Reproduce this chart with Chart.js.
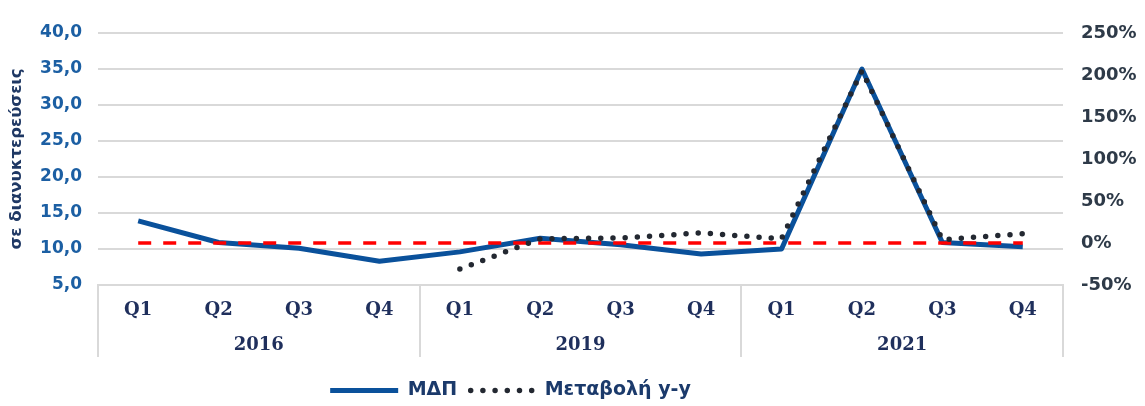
<!DOCTYPE html>
<html><head><meta charset="utf-8">
<script src="https://cdn.jsdelivr.net/npm/chart.js@4/dist/chart.umd.min.js"></script>
<style>html,body{margin:0;padding:0;background:#fff}#wrap{width:1145px;height:406px;position:relative}</style>
</head><body><div id="wrap"><canvas id="c"></canvas></div>
<script>
const quarters = ['Q1','Q2','Q3','Q4','Q1','Q2','Q3','Q4','Q1','Q2','Q3','Q4'];
const years = ['2016','2019','2021'];
const mdp = [13.9, 10.9, 10.1, 8.3, 9.6, 11.5, 10.6, 9.3, 10.0, 35.0, 10.9, 10.3];
const yoyChange = [null, null, null, null, -31, 5, 6, 12, 5, 205, 4, 11];
const zeroLine = [0, 0, 0, 0, 0, 0, 0, 0, 0, 0, 0, 0];
const seriesNames = ['ΜΔΠ', 'Μεταβολή y-y'];
const axisTitle = 'σε διανυκτερεύσεις';

const GRID = '#D9D9D9';

const groupSeparators = {
  id: 'groupSeparators',
  afterLayout(chart) {
    const lg = chart.legend;
    if (lg) { lg.left -= 62; lg.right -= 62; lg.top += 8; lg.bottom += 8; }
  },
  afterDraw(chart) {
    const xs = chart.scales.x2;
    const ctx = chart.ctx;
    const n = years.length;
    const w = (xs.right - xs.left) / n;
    ctx.save();
    ctx.strokeStyle = GRID;
    ctx.lineWidth = 2;
    for (let i = 0; i <= n; i++) {
      const px = Math.round(xs.left + i * w);
      ctx.beginPath();
      ctx.moveTo(px, chart.chartArea.bottom);
      ctx.lineTo(px, 357);
      ctx.stroke();
    }
    ctx.restore();
  }
};

new Chart(document.getElementById('c'), {
  type: 'line',
  data: {
    labels: quarters,
    datasets: [
      { label: seriesNames[0], data: mdp, yAxisID: 'y', borderColor: '#0A519B', backgroundColor: '#0A519B',
        borderWidth: 5, pointRadius: 0, pointHoverRadius: 0, tension: 0, order: 3, borderJoinStyle: 'round' },
      { label: seriesNames[1], data: yoyChange, yAxisID: 'y2', borderColor: '#232831', backgroundColor: '#232831',
        borderWidth: 5.5, borderDash: [0, 12.2], borderCapStyle: 'round', pointRadius: 0, pointHoverRadius: 0,
        tension: 0, order: 1, spanGaps: false },
      { label: 'ref', data: zeroLine, yAxisID: 'y2', borderColor: '#FF0000', backgroundColor: '#FF0000',
        borderWidth: 3.5, borderDash: [13, 12], pointRadius: 0, pointHoverRadius: 0, order: 2 }
    ]
  },
  options: {
    responsive: true, maintainAspectRatio: false, animation: false, devicePixelRatio: 1,
    layout: { padding: { top: 33, bottom: 4, left: 0, right: 0 } },
    plugins: {
      tooltip: { enabled: false },
      legend: {
        position: 'bottom',
        labels: {
          usePointStyle: true, pointStyle: 'line', pointStyleWidth: 68, boxHeight: 12,
          font: { family: 'DejaVu Sans', weight: 'bold', size: 19 }, color: '#1B3A6B', padding: 10,
          generateLabels: (chart) => {
            const items = Chart.defaults.plugins.legend.labels.generateLabels(chart);
            return items.filter(it => it.datasetIndex !== 2)
              .sort((a, b) => a.datasetIndex - b.datasetIndex)
              .map(it => {
                const ds = chart.data.datasets[it.datasetIndex];
                it.lineDash = ds.borderDash || [];
                it.lineDashOffset = ds.borderDash ? -3.5 : 0;
                it.lineCap = ds.borderCapStyle || 'butt';
                it.lineWidth = ds.borderWidth;
                it.strokeStyle = ds.borderColor;
                it.pointStyle = 'line';
                return it;
              });
          }
        }
      }
    },
    scales: {
      x: {
        type: 'category', position: 'bottom', offset: true,
        grid: { display: false, drawTicks: false },
        border: { display: true, color: GRID, width: 2 },
        ticks: { font: { family: 'DejaVu Serif', weight: 'bold', size: 18 }, color: '#1F2F5C', padding: 15, maxRotation: 0, autoSkip: false },
        afterFit: (s) => { s.height = 36; }
      },
      x2: {
        type: 'category', position: 'bottom', offset: true, labels: years,
        grid: { display: false, drawTicks: false },
        border: { display: false },
        ticks: { font: { family: 'DejaVu Serif', weight: 'bold', size: 18 }, color: '#1F2F5C', padding: 14, maxRotation: 0, autoSkip: false },
        afterFit: (s) => { s.height = 42; }
      },
      y: {
        position: 'left', min: 5, max: 40,
        grid: { color: GRID, lineWidth: 2, drawTicks: false },
        border: { display: false },
        ticks: { stepSize: 5, padding: 16, color: '#1C5FA3', font: { family: 'DejaVu Sans', weight: 'bold', size: 17 },
          callback: (v) => v.toFixed(1).replace('.', ',') },
        title: { display: true, text: axisTitle, color: '#1F3864', font: { family: 'DejaVu Sans', weight: 'bold', size: 16.5 }, padding: { top: 7, bottom: 0 } },
        afterFit: (s) => { s.width = 98; }
      },
      y2: {
        position: 'right', min: -50, max: 250,
        grid: { display: false, drawTicks: false },
        border: { display: false },
        ticks: { stepSize: 50, padding: 18, color: '#2E3A48', font: { family: 'DejaVu Sans', weight: 'bold', size: 18 },
          callback: (v) => v + '%' },
        afterFit: (s) => { s.width = 82; }
      }
    }
  },
  plugins: [groupSeparators]
});
</script></body></html>
